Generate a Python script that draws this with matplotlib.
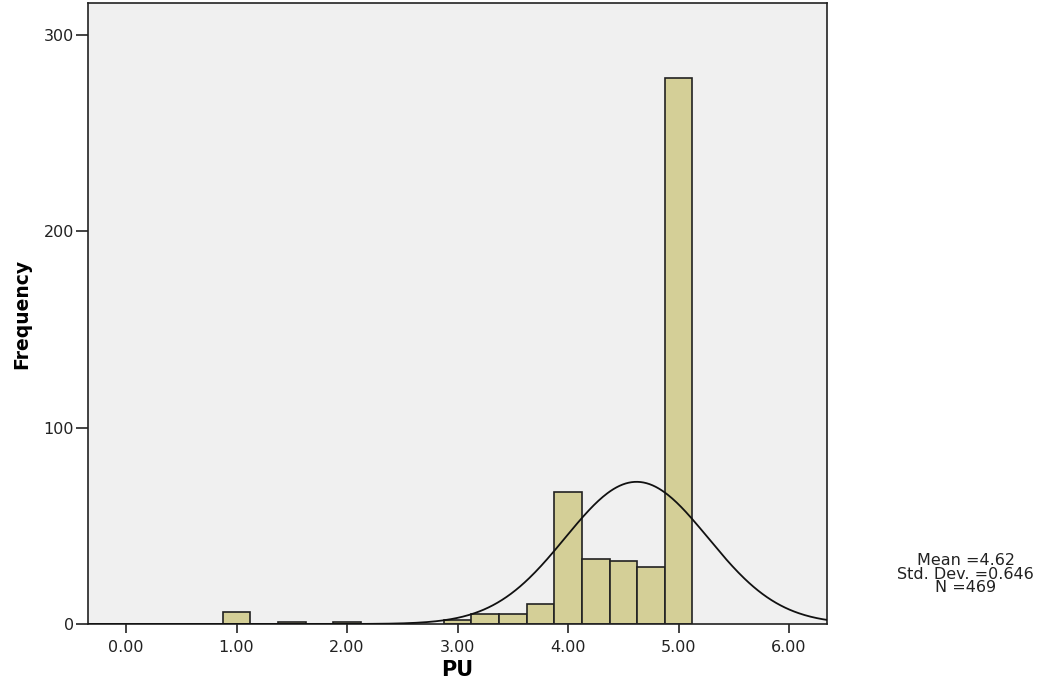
import numpy as np
import matplotlib
matplotlib.use("Agg")
from matplotlib import pyplot as plt

plt.rcParams['font.family'] = ['DejaVu Sans']

# histogram bins (centres) and counts
bin_centers = [1.00, 1.50, 2.00, 3.00, 3.25, 3.50, 3.75, 4.00, 4.25, 4.50, 4.75, 5.00]
counts = [6, 1, 1, 2, 5, 5, 10, 67, 33, 32, 29, 278]
bin_width = 0.25

mean_val = 4.62
std_val = 0.646
n_val = 469

x_ticks = [0, 1, 2, 3, 4, 5, 6]
y_ticks = [0, 100, 200, 300]

fig = plt.figure(figsize=(10.51, 6.86), dpi=100)
ax = fig.add_axes([0.0837, 0.0904, 0.7033, 0.9052])
ax.set_facecolor('#F0F0F0')

ax.bar(bin_centers, counts, width=bin_width, color='#D4CF97',
       edgecolor='#222222', linewidth=1.2, zorder=2)

# fitted normal curve, scaled to the histogram
xs = np.linspace(-0.4, 6.4, 500)
pdf = np.exp(-0.5 * ((xs - mean_val) / std_val) ** 2) / (std_val * np.sqrt(2 * np.pi))
ax.plot(xs, pdf * n_val * bin_width, color='#111111', linewidth=1.3, zorder=3)

ax.set_xlim(-0.344, 6.344)
ax.set_ylim(0, 316.3)
ax.set_xticks(x_ticks)
ax.set_xticklabels([f'{t:.2f}' for t in x_ticks])
ax.set_yticks(y_ticks)
ax.tick_params(axis='both', direction='out', width=1.2,
               labelsize=11.5, colors='#222222')
ax.tick_params(axis='x', length=6.5, pad=5)
ax.tick_params(axis='y', length=8.5, pad=1.5)

for side in ax.spines.values():
    side.set_linewidth(1.2)
    side.set_color('#222222')

ax.set_xlabel('PU', fontsize=15, fontweight='bold')
ax.xaxis.set_label_coords(0.5, -0.074)
ax.xaxis.label.set_va('center')
ax.set_ylabel('Frequency', fontsize=13.5, fontweight='bold')
ax.yaxis.set_label_coords(-0.0893, 0.5)
ax.yaxis.label.set_va('center')

fig.text(0.919, 0.163, f'Mean ={mean_val}\nStd. Dev. ={std_val}\nN ={n_val}',
         ha='center', va='center', fontsize=11.5, linespacing=0.88,
         color='#222222')

plt.savefig('out.png', dpi=100)
